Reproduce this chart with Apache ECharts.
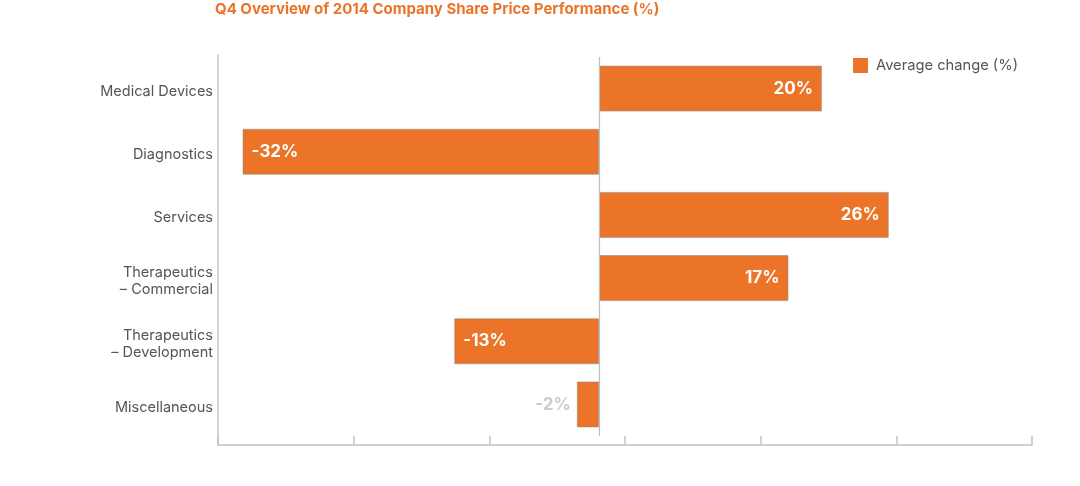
<!DOCTYPE html>
<html><head><meta charset="utf-8">
<script src="https://cdn.jsdelivr.net/npm/echarts@6/dist/echarts.min.js"></script>
<style>html,body{margin:0;padding:0;background:#fff}#c{width:1080px;height:486px}</style>
</head><body><div id="c"></div>
<script>
const categories = ['Medical Devices', 'Diagnostics', 'Services', 'Therapeutics\n– Commercial', 'Therapeutics\n– Development', 'Miscellaneous'];
const values = [20, -32, 26, 17, -13, -2];
const seriesName = 'Average change (%)';
const titleText = 'Q4 Overview of 2014 Company Share Price Performance (%)';

const ORANGE = '#EC7428';
const FONT = 'Inter, "Open Sans", sans-serif';

const barData = values.map(v => {
  const small = Math.abs(v) < 5;
  return {
    value: v,
    label: {
      position: small ? 'left' : (v >= 0 ? 'insideRight' : 'insideLeft'),
      color: small ? '#cccccc' : '#ffffff',
      distance: small ? 6 : 9
    }
  };
});

const chart = echarts.init(document.getElementById('c'));
chart.setOption({
  animation: false,
  backgroundColor: '#fff',
  title: {
    text: titleText, left: 210, top: -3,
    textStyle: { color: ORANGE, fontSize: 15, fontWeight: 'bold', fontFamily: FONT }
  },
  legend: {
    left: 848, top: 53, icon: 'rect', itemWidth: 15, itemHeight: 15,
    itemStyle: { borderWidth: 0 },
    textStyle: { color: '#555', fontSize: 14.7, fontFamily: FONT, padding: [0, 0, 0, 3] },
    data: [seriesName]
  },
  grid: [
    { left: 218, top: 57, width: 814, height: 379 },
    { left: 218, top: 55, width: 814, height: 390 },
    { left: 218, top: 60, width: 814, height: 379 }
  ],
  xAxis: [
    { gridIndex: 0, type: 'value', min: -34.2, max: 38.85, show: false, splitLine: { show: false } },
    { gridIndex: 1, type: 'value', min: 0, max: 6, interval: 1,
      axisLine: { show: true, lineStyle: { color: '#c4c4c4', width: 1.5 } },
      axisTick: { show: true, inside: true, length: 9, lineStyle: { color: '#c4c4c4', width: 1.5 } },
      axisLabel: { show: false }, splitLine: { show: false } },
    { gridIndex: 2, type: 'value', show: false, splitLine: { show: false } }
  ],
  yAxis: [
    { gridIndex: 0, type: 'category', data: categories, inverse: true,
      axisLine: { show: false }, axisTick: { show: false }, axisLabel: { show: false } },
    { gridIndex: 1, type: 'value', min: 0, max: 1,
      axisLine: { show: true, lineStyle: { color: '#c4c4c4', width: 1.5 } },
      axisTick: { show: false }, axisLabel: { show: false }, splitLine: { show: false } },
    { gridIndex: 2, type: 'category', data: categories, inverse: true,
      axisLine: { show: false }, axisTick: { show: false },
      axisLabel: { color: '#555', fontSize: 14.5, fontFamily: FONT, margin: 5, lineHeight: 17, align: 'right' } }
  ],
  series: [{
    name: seriesName, type: 'bar', xAxisIndex: 0, yAxisIndex: 0,
    data: barData, barWidth: 46,
    itemStyle: { color: ORANGE, borderColor: 'rgba(140,140,140,0.55)', borderWidth: 1 },
    label: { show: true, formatter: p => p.value + '%', fontSize: 17, fontWeight: 'bold', fontFamily: FONT },
    markLine: {
      silent: true, symbol: 'none', label: { show: false },
      lineStyle: { color: '#bdbdbd', type: 'solid', width: 1.2 },
      data: [{ xAxis: 0 }]
    }
  }]
});
</script></body></html>
